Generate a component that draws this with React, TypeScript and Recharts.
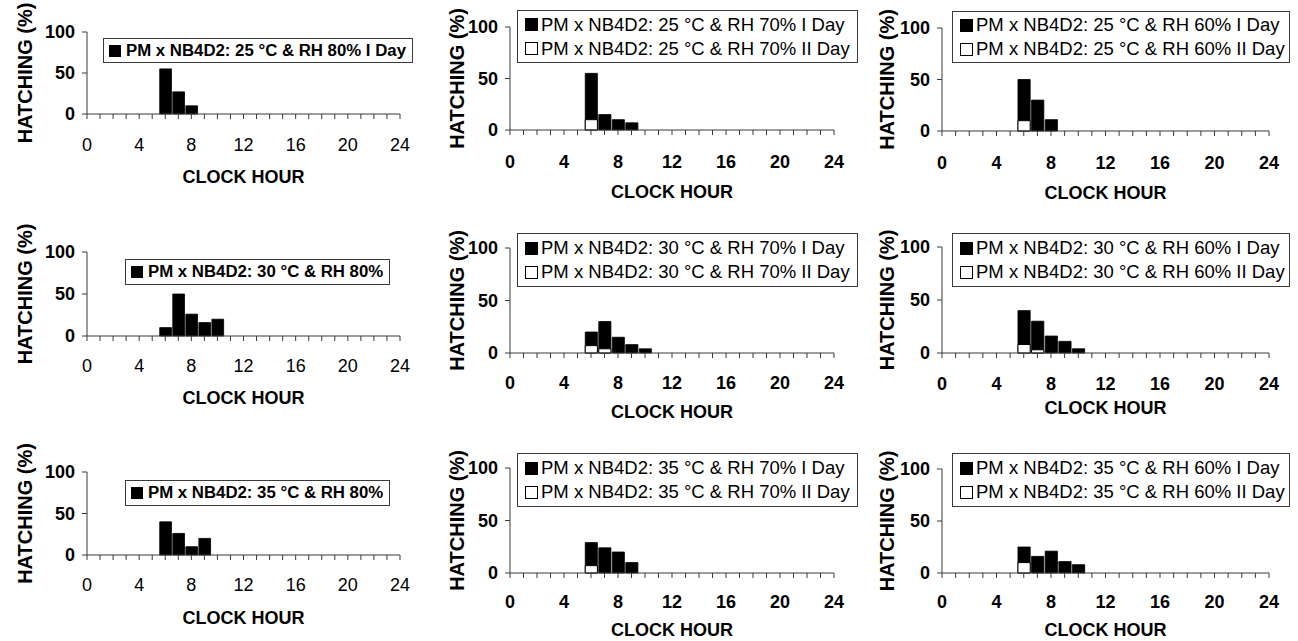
import React from 'react';
import { BarChart, Bar, XAxis, YAxis, Legend } from 'recharts';

const FONT = '"Liberation Sans", Arial, Helvetica, sans-serif';

// ---- data ----
const HOURS = [6, 7, 8, 9, 10];
const X_TICKS = [0, 1, 2, 3, 4, 5, 6, 7, 8, 9, 10, 11, 12, 13, 14, 15, 16, 17, 18, 19, 20, 21, 22, 23, 24];
const X_TICK_LABELS = [0, 4, 8, 12, 16, 20, 24];
const Y_TICKS = [0, 50, 100];

const T25_RH80_I = [55, 27, 10, 0, 0];
const T25_RH70_I = [55, 15, 10, 7, 0];
const T25_RH70_II = [10, 0, 0, 0, 0];
const T25_RH60_I = [50, 30, 11, 0, 0];
const T25_RH60_II = [10, 0, 0, 0, 0];

const T30_RH80_I = [10, 50, 26, 16, 20];
const T30_RH70_I = [20, 30, 15, 8, 4];
const T30_RH70_II = [7, 4, 0, 0, 0];
const T30_RH60_I = [40, 30, 16, 11, 4];
const T30_RH60_II = [8, 3, 0, 0, 0];

const T35_RH80_I = [40, 26, 10, 20, 0];
const T35_RH70_I = [29, 24, 20, 10, 0];
const T35_RH70_II = [7, 0, 0, 0, 0];
const T35_RH60_I = [25, 16, 21, 11, 8];
const T35_RH60_II = [10, 0, 0, 0, 0];

const LABEL_25_80 = ['PM x NB4D2: 25 °C & RH 80% I Day'];
const LABEL_25_70 = ['PM x NB4D2: 25 °C & RH 70% I Day', 'PM x NB4D2: 25 °C & RH 70% II Day'];
const LABEL_25_60 = ['PM x NB4D2: 25 °C & RH 60% I Day', 'PM x NB4D2: 25 °C & RH 60% II Day'];
const LABEL_30_80 = ['PM x NB4D2: 30 °C & RH 80%'];
const LABEL_30_70 = ['PM x NB4D2: 30 °C & RH 70% I Day', 'PM x NB4D2: 30 °C & RH 70% II Day'];
const LABEL_30_60 = ['PM x NB4D2: 30 °C & RH 60% I Day', 'PM x NB4D2: 30 °C & RH 60% II Day'];
const LABEL_35_80 = ['PM x NB4D2: 35 °C & RH 80%'];
const LABEL_35_70 = ['PM x NB4D2: 35 °C & RH 70% I Day', 'PM x NB4D2: 35 °C & RH 70% II Day'];
const LABEL_35_60 = ['PM x NB4D2: 35 °C & RH 60% I Day', 'PM x NB4D2: 35 °C & RH 60% II Day'];

// ---- layout ----
type Cfg = {
  L: number; T: number; W: number; H: number;
  x0: number; x1: number; yTop: number; yBot: number;
  yLabelD: number; xTickOff: number; xTitleOff: number;
  leg: [number, number, number, number];
  left: boolean;
  d1: number[]; d2?: number[]; labels: string[];
};

const COL_L = [0, 430, 860];
const COL_W = [430, 430, 438];
const ROW_T = [0, 210, 420];
const ROW_H = [221, 221, 221];

const PANELS: Cfg[] = [
  { L: COL_L[0], T: ROW_T[0], W: COL_W[0], H: ROW_H[0], x0: 87, x1: 400, yTop: 32, yBot: 114, yLabelD: 62, xTickOff: 31, xTitleOff: 63, leg: [103, 38, 310, 25], left: true, d1: T25_RH80_I, labels: LABEL_25_80 },
  { L: COL_L[1], T: ROW_T[0], W: COL_W[1], H: ROW_H[0], x0: 510, x1: 834, yTop: 27, yBot: 130, yLabelD: 53, xTickOff: 32, xTitleOff: 62, leg: [517, 10, 341, 53], left: false, d1: T25_RH70_I, d2: T25_RH70_II, labels: LABEL_25_70 },
  { L: COL_L[2], T: ROW_T[0], W: COL_W[2], H: ROW_H[0], x0: 942, x1: 1269, yTop: 28, yBot: 131, yLabelD: 55, xTickOff: 32, xTitleOff: 62, leg: [952, 11, 338, 52], left: false, d1: T25_RH60_I, d2: T25_RH60_II, labels: LABEL_25_60 },
  { L: COL_L[0], T: ROW_T[1], W: COL_W[0], H: ROW_H[1], x0: 87, x1: 400, yTop: 252, yBot: 336, yLabelD: 62, xTickOff: 30, xTitleOff: 62, leg: [125, 259, 265, 26], left: true, d1: T30_RH80_I, labels: LABEL_30_80 },
  { L: COL_L[1], T: ROW_T[1], W: COL_W[1], H: ROW_H[1], x0: 510, x1: 834, yTop: 248, yBot: 353, yLabelD: 53, xTickOff: 30, xTitleOff: 59, leg: [517, 233, 341, 54], left: false, d1: T30_RH70_I, d2: T30_RH70_II, labels: LABEL_30_70 },
  { L: COL_L[2], T: ROW_T[1], W: COL_W[2], H: ROW_H[1], x0: 942, x1: 1269, yTop: 247, yBot: 353, yLabelD: 55, xTickOff: 31, xTitleOff: 55, leg: [952, 233, 338, 54], left: false, d1: T30_RH60_I, d2: T30_RH60_II, labels: LABEL_30_60 },
  { L: COL_L[0], T: ROW_T[2], W: COL_W[0], H: ROW_H[2], x0: 87, x1: 400, yTop: 472, yBot: 555, yLabelD: 62, xTickOff: 30, xTitleOff: 63, leg: [125, 480, 265, 26], left: true, d1: T35_RH80_I, labels: LABEL_35_80 },
  { L: COL_L[1], T: ROW_T[2], W: COL_W[1], H: ROW_H[2], x0: 510, x1: 834, yTop: 468, yBot: 573, yLabelD: 53, xTickOff: 29, xTitleOff: 57, leg: [517, 453, 341, 54], left: false, d1: T35_RH70_I, d2: T35_RH70_II, labels: LABEL_35_70 },
  { L: COL_L[2], T: ROW_T[2], W: COL_W[2], H: ROW_H[2], x0: 942, x1: 1269, yTop: 469, yBot: 573, yLabelD: 55, xTickOff: 29, xTitleOff: 57, leg: [952, 453, 338, 54], left: false, d1: T35_RH60_I, d2: T35_RH60_II, labels: LABEL_35_60 },
];

const AXIS_COLOR = '#3a3a3a';

function Panel({ c }: { c: Cfg }) {
  const data = HOURS.map((h, i) => ({ hour: h, d1: c.d1[i], d2: c.d2 ? c.d2[i] : 0 }));
  const yAxisWidth = c.x0 - c.L - 1;
  const margin = { top: c.yTop - c.T, right: c.L + c.W - c.x1, bottom: 0, left: 1 };
  const xAxisHeight = c.T + c.H - c.yBot;
  const barSize = (c.x1 - c.x0) / 24;
  const yBotL = c.yBot - c.T;

  const xTick = (p: any) => {
    const v = p.payload.value;
    if (!X_TICK_LABELS.includes(v)) return <g />;
    return (
      <text x={p.x} y={yBotL + c.xTickOff} textAnchor="middle" dominantBaseline="central"
        fontFamily={FONT} fontSize={18} fontWeight={c.left ? 'normal' : 'bold'} fill="#000">{v}</text>
    );
  };
  const yTick = (p: any) => (
    <text x={c.x0 - c.L - 12} y={p.y} textAnchor="end" dominantBaseline="central"
      fontFamily={FONT} fontSize={18} fontWeight="bold" fill="#000">{p.payload.value}</text>
  );
  const yLabel = () => (
    <text transform={`translate(${c.x0 - c.L - c.yLabelD}, ${(c.yTop + c.yBot) / 2 - c.T}) rotate(-90)`}
      textAnchor="middle" dominantBaseline="central" fontFamily={FONT} fontSize={20} fontWeight="bold" fill="#000">HATCHING (%)</text>
  );
  const xLabel = () => (
    <text x={(c.x0 + c.x1) / 2 - c.L} y={yBotL + c.xTitleOff} textAnchor="middle" dominantBaseline="central"
      fontFamily={FONT} fontSize={18} fontWeight="bold" fill="#000">CLOCK HOUR</text>
  );

  const [lx, ly, lw, lh] = c.leg;
  const fills = ['#000', '#fff'];
  const legendContent = () => (
    <div style={{
      width: lw, height: lh, boxSizing: 'border-box', border: `1px solid ${AXIS_COLOR}`, background: '#fff',
      display: 'flex', flexDirection: 'column', justifyContent: 'center', paddingLeft: c.left ? 5 : 7,
      fontFamily: FONT, fontSize: c.left ? 16.8 : 18.5, fontWeight: c.left ? 'bold' : 'normal', color: '#000',
    }}>
      {c.labels.map((lab, i) => (
        <div key={i} style={{ display: 'flex', alignItems: 'center', whiteSpace: 'nowrap', height: c.left ? 20 : 24 }}>
          <span style={{
            display: 'inline-block', width: c.left ? 12 : 13, height: c.left ? 12 : 13, background: fills[i],
            border: '1px solid #000', boxSizing: 'border-box', marginRight: c.left ? 5 : 3,
          }} />
          <span>{lab}</span>
        </div>
      ))}
    </div>
  );

  return (
    <div style={{ position: 'absolute', left: c.L, top: c.T, width: c.W, height: c.H }}>
      <BarChart width={c.W} height={c.H} data={data} margin={margin} barGap={0} barCategoryGap={0}
        style={{ overflow: 'visible' }}>
        <XAxis xAxisId="a" type="number" dataKey="hour" domain={[0, 24]} ticks={X_TICKS} interval={0}
          tickSize={5} tickMargin={2} height={xAxisHeight} tick={xTick} label={xLabel}
          axisLine={{ stroke: AXIS_COLOR, strokeWidth: 1 }} tickLine={{ stroke: AXIS_COLOR, strokeWidth: 1 }} />
        <XAxis xAxisId="b" type="number" dataKey="hour" domain={[0, 24]} ticks={X_TICKS} hide />
        <YAxis type="number" domain={[0, 100]} ticks={Y_TICKS} interval={0} width={yAxisWidth}
          tickSize={5} tickMargin={2} tick={yTick} label={yLabel}
          axisLine={{ stroke: AXIS_COLOR, strokeWidth: 1 }} tickLine={{ stroke: AXIS_COLOR, strokeWidth: 1 }} />
        <Bar xAxisId="a" dataKey="d1" name={c.labels[0]} fill="#000" stroke="#000" strokeWidth={0.8}
          barSize={barSize} isAnimationActive={false} />
        {c.d2 && (
          <Bar xAxisId="b" dataKey="d2" name={c.labels[1]} fill="#fff" stroke="#000" strokeWidth={1}
            barSize={barSize} isAnimationActive={false} />
        )}
        <Legend layout="horizontal" verticalAlign="middle" align="center" content={legendContent}
          wrapperStyle={{ left: lx - c.L, top: ly - c.T, width: lw, height: lh }} />
      </BarChart>
    </div>
  );
}

export default function App() {
  return (
    <div style={{ position: 'absolute', left: 0, top: 0, width: 1298, height: 641, background: '#fff', overflow: 'hidden' }}>
      {PANELS.map((c, i) => <Panel key={i} c={c} />)}
    </div>
  );
}
